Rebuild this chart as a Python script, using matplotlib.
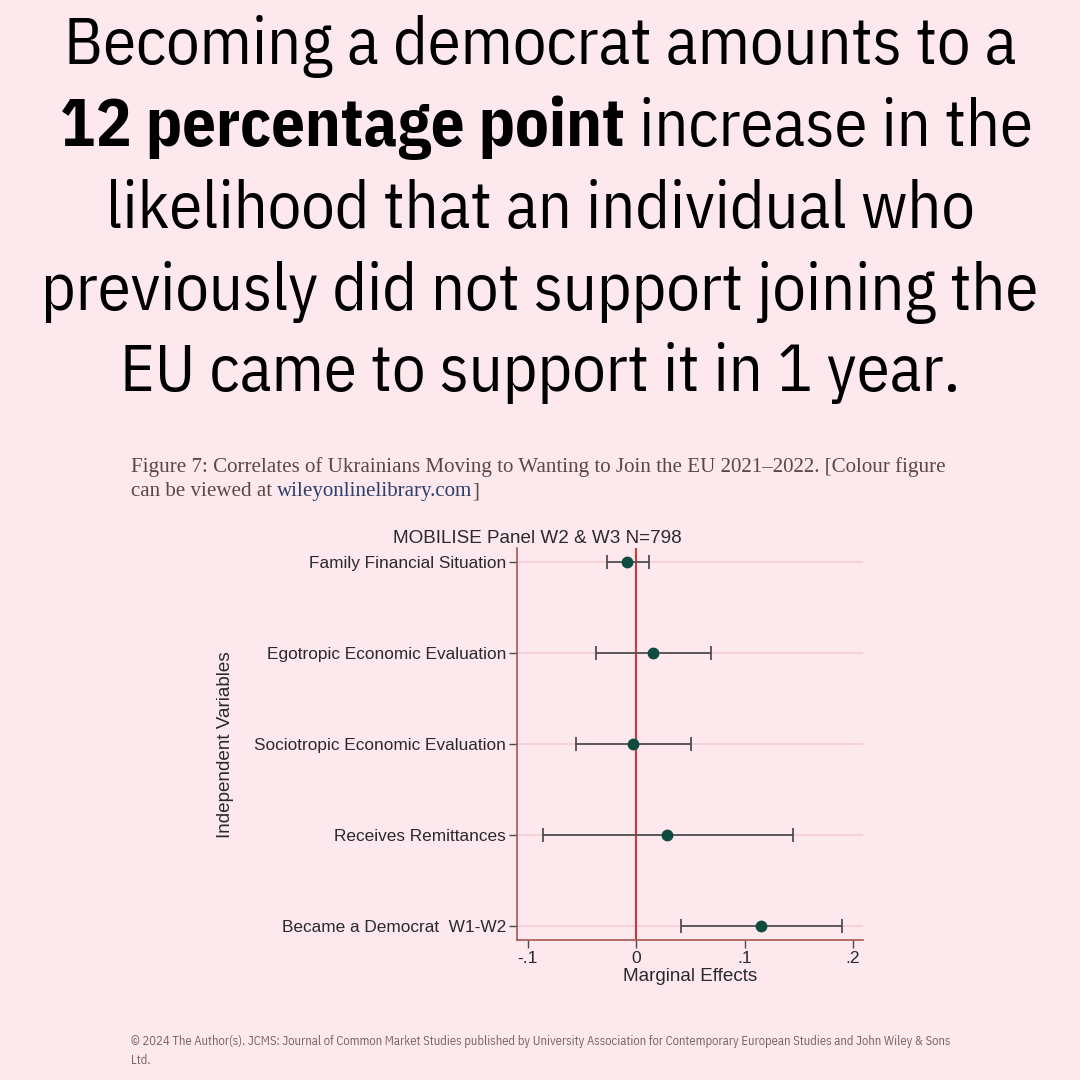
import matplotlib
matplotlib.use('Agg')
import matplotlib.pyplot as plt
import numpy as np

# data
variables = ['Family Financial Situation', 'Egotropic Economic Evaluation',
             'Sociotropic Economic Evaluation', 'Receives Remittances',
             'Became a Democrat  W1-W2']
effects = [-0.008, 0.016, -0.003, 0.029, 0.115]
ci_low = [-0.027, -0.037, -0.055, -0.086, 0.041]
ci_high = [0.012, 0.069, 0.051, 0.145, 0.190]
x_ticks = [-0.1, 0, 0.1, 0.2]
x_tick_labels = ['-.1', '0', '.1', '.2']

bg = '#fde8ee'
head_font = ['IBM Plex Sans Condensed', 'DejaVu Sans']
chart_font = ['Liberation Sans', 'DejaVu Sans']
serif_font = ['Liberation Serif', 'DejaVu Serif']

fig = plt.figure(figsize=(10.8, 10.8), dpi=100, facecolor=bg)
renderer = fig.canvas.get_renderer()

# headline (baselines in pixels from the top)
lines = ['Becoming a democrat amounts to a',
         None,
         'likelihood that an individual who',
         'previously did not support joining the',
         'EU came to support it in 1 year.']
baselines = [64, 146, 228, 310, 391]
hsize = 47.8
for txt, b in zip(lines, baselines):
    if txt is not None:
        fig.text(0.5, 1 - b / 1080, txt, ha='center', va='baseline', fontsize=hsize,
                 family=head_font, color='#000000')

# mixed bold line
y2 = 1 - baselines[1] / 1080
t1 = fig.text(0, y2, '12 percentage point', ha='left', va='baseline', fontsize=hsize,
              family=head_font, weight='bold', color='#000000')
t2 = fig.text(0, y2, ' increase in the', ha='left', va='baseline', fontsize=hsize,
              family=head_font, color='#000000')
w1 = t1.get_window_extent(renderer).width / 1080
w2 = t2.get_window_extent(renderer).width / 1080
x0 = 0.506 - (w1 + w2) / 2
t1.set_x(x0)
t2.set_x(x0 + w1)

# caption
cap_col = '#5a4848'
fig.text(131 / 1080, 1 - 467 / 1080,
         'Figure 7: Correlates of Ukrainians Moving to Wanting to Join the EU 2021\u20132022. [Colour figure',
         ha='left', va='center', fontsize=15.1, family=serif_font, color=cap_col)
c1 = fig.text(131 / 1080, 1 - 492 / 1080, 'can be viewed at ', ha='left', va='center',
              fontsize=15.1, family=serif_font, color=cap_col)
wc = c1.get_window_extent(renderer).width / 1080
c2 = fig.text(131 / 1080 + wc, 1 - 492 / 1080, 'wileyonlinelibrary.com', ha='left', va='center',
              fontsize=15.1, family=serif_font, color='#2a3f6a')
wc2 = c2.get_window_extent(renderer).width / 1080
fig.text(131 / 1080 + wc + wc2, 1 - 492 / 1080, ']', ha='left', va='center',
         fontsize=15.1, family=serif_font, color=cap_col)

# footer
foot_col = '#7d6262'
fig.text(131 / 1080, 1 - 1042 / 1080,
         '\u00a9 2024 The Author(s). JCMS: Journal of Common Market Studies published by University Association for Contemporary European Studies and John Wiley & Sons',
         ha='left', va='center', fontsize=9.05, family=head_font, color=foot_col)
fig.text(131 / 1080, 1 - 1060 / 1080, 'Ltd.', ha='left', va='center',
         fontsize=9.05, family=head_font, color=foot_col)

# coefficient plot
ax = fig.add_axes([517 / 1080, 1 - 940 / 1080, (863 - 517) / 1080, (940 - 548) / 1080])
ax.set_facecolor(bg)
ypos = np.arange(len(variables))
for y in ypos:
    ax.axhline(y, color='#f6cdd6', lw=1.2, zorder=0)
ax.axvline(0, color='#d2373c', lw=1.5, zorder=1)
err = [np.array(effects) - np.array(ci_low), np.array(ci_high) - np.array(effects)]
ax.errorbar(effects, ypos, xerr=err, fmt='o', color='#0e4c40', ms=7.5,
            ecolor='#4f4f4f', elinewidth=1.3, capsize=5, capthick=1.3, zorder=3)
ax.set_ylim(4 + 14 / 91, -14 / 91)
ax.set_xlim(-0.1097, 0.2092)
ax.set_yticks(ypos)
ax.set_yticklabels(variables, family=chart_font, fontsize=12.4, color='#2a2a2a')
ax.set_xticks(x_ticks)
ax.set_xticklabels(x_tick_labels, family=chart_font, fontsize=12.6, color='#2a2a2a')
for s in ['top', 'right']:
    ax.spines[s].set_visible(False)
for s in ['left', 'bottom']:
    ax.spines[s].set_color('#a5574f')
    ax.spines[s].set_linewidth(1.2)
ax.tick_params(axis='both', color='#4a4a4a', length=6, width=1)
ax.tick_params(axis='x', pad=2)
ax.tick_params(axis='y', pad=2)
ax.set_xlabel('Marginal Effects', family=chart_font, fontsize=13.6, color='#2a2a2a', labelpad=1.5)

fig.text(226 / 1080, 1 - 745 / 1080, 'Independent Variables', rotation=90, ha='center',
         va='center', family=chart_font, fontsize=13.6, color='#2a2a2a')
fig.text(537 / 1080, 1 - 538 / 1080, 'MOBILISE Panel W2 & W3 N=798', ha='center', va='center',
         family=chart_font, fontsize=13.6, color='#2a2a2a')

fig.savefig('out.png', dpi=100, facecolor=bg)
